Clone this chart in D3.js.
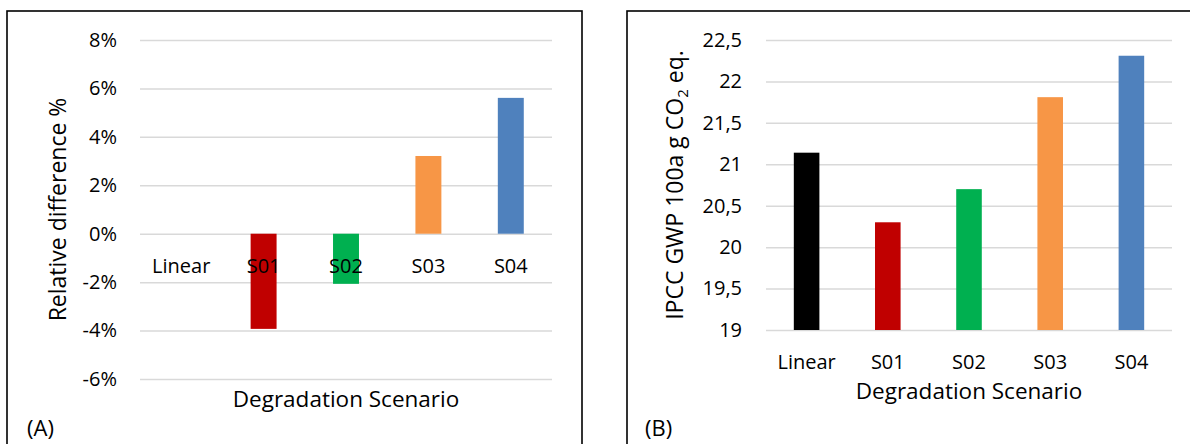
<!DOCTYPE html>
<html>
<head>
<meta charset="utf-8">
<script src="https://cdn.jsdelivr.net/npm/d3@7"></script>
<style>
  html, body { margin: 0; padding: 0; background: #fff; }
  svg { display: block; }
  text { font-family: "Open Sans", sans-serif; fill: #000; }
</style>
</head>
<body>
<svg id="chart" width="1190" height="444"></svg>
<script>
// ---- data ----
const categories = ["Linear", "S01", "S02", "S03", "S04"];
const barColors = ["#000000", "#C00000", "#00B050", "#F79646", "#4F81BD"];
const relDiffValues = [0, -0.0393, -0.0207, 0.0321, 0.0561];   // panel A (fraction)
const gwpValues = [21.14, 20.30, 20.70, 21.81, 22.31];          // panel B
const relDiffTicks = [-0.06, -0.04, -0.02, 0, 0.02, 0.04, 0.06, 0.08];
const gwpTicks = [19, 19.5, 20, 20.5, 21, 21.5, 22, 22.5];
const xTitle = "Degradation Scenario";
const yTitleA = "Relative difference %";

const svg = d3.select("#chart");
const FS = 20;
const FONT = "'Open Sans', sans-serif";

function panel(opts) {
  const g = svg.append("g");
  // frame
  g.append("rect")
    .attr("x", opts.frame[0]).attr("y", opts.frame[1])
    .attr("width", opts.frame[2]).attr("height", opts.frame[3])
    .attr("fill", "none").attr("stroke", "#000").attr("stroke-width", 1.6);

  const x = d3.scaleBand().domain(categories)
    .range([opts.left, opts.right]).paddingInner(0.685).paddingOuter(0.3425);
  const y = d3.scaleLinear().domain(opts.domain).range([opts.bottom, opts.top]);

  // gridlines
  const grid = g.append("g").attr("transform", `translate(${opts.left},0)`)
    .call(d3.axisLeft(y).tickValues(opts.ticks).tickSize(-(opts.right - opts.left)).tickFormat(""));
  grid.select(".domain").remove();
  grid.selectAll("line").attr("stroke", "#d9d9d9").attr("stroke-width", 1.5);

  // y tick labels
  const ya = g.append("g").attr("transform", `translate(${opts.left},0)`)
    .call(d3.axisLeft(y).tickValues(opts.ticks).tickSize(0).tickPadding(opts.tickPad).tickFormat(opts.fmt));
  ya.select(".domain").remove();
  ya.selectAll("text").style("font-size", FS + "px").style("font-family", FONT).attr("fill", "#000");

  // bars
  g.append("g").selectAll("rect").data(opts.values).join("rect")
    .attr("x", (d, i) => x(categories[i]))
    .attr("width", x.bandwidth())
    .attr("y", d => y(Math.max(d, opts.base)))
    .attr("height", d => Math.abs(y(d) - y(opts.base)))
    .attr("fill", (d, i) => barColors[i]);

  // category labels
  const xa = g.append("g").attr("transform", `translate(0,${y(opts.base)})`)
    .call(d3.axisBottom(x).tickSize(0));
  xa.select(".domain").remove();
  xa.selectAll("text").attr("y", opts.catOffset).attr("dy", null)
    .style("font-size", FS + "px").style("font-family", FONT).attr("fill", "#000");

  // x title
  g.append("text").attr("x", (opts.left + opts.right) / 2).attr("y", opts.xTitleY)
    .attr("text-anchor", "middle").style("font-size", "22.5px").text(xTitle);

  // panel label
  g.append("text").attr("x", opts.labelX).attr("y", 436)
    .style("font-size", "22px").text(opts.label);

  return { g, x, y };
}

const pctFmt = d => d3.format(".0%")(d).replace("\u2212", "-");

const A = panel({
  frame: [7, 11, 575, 450],
  left: 140, right: 552, top: 40, bottom: 379,
  domain: [-0.06, 0.08], ticks: relDiffTicks, base: 0,
  values: relDiffValues, fmt: pctFmt, tickPad: 23,
  catOffset: 39, xTitleY: 407, label: "(A)", labelX: 27
});
A.g.append("text")
  .attr("transform", `translate(66,${(40 + 379) / 2}) rotate(-90)`)
  .attr("text-anchor", "middle").style("font-size", "23px").text(yTitleA);

const B = panel({
  frame: [627, 11, 600, 450],
  left: 766, right: 1172, top: 40, bottom: 330,
  domain: [19, 22.5], ticks: gwpTicks, base: 19,
  values: gwpValues, fmt: d => String(d).replace(".", ","), tickPad: 24,
  catOffset: 39, xTitleY: 398.5, label: "(B)", labelX: 645
});
const tB = B.g.append("text")
  .attr("transform", `translate(683,${(40 + 330) / 2}) rotate(-90)`)
  .attr("text-anchor", "middle").style("font-size", "23px");
tB.append("tspan").text("IPCC GWP 100a g CO");
tB.append("tspan").attr("dy", 5).style("font-size", "15px").text("2");
tB.append("tspan").attr("dy", -5).text(" eq.");
</script>
</body>
</html>
